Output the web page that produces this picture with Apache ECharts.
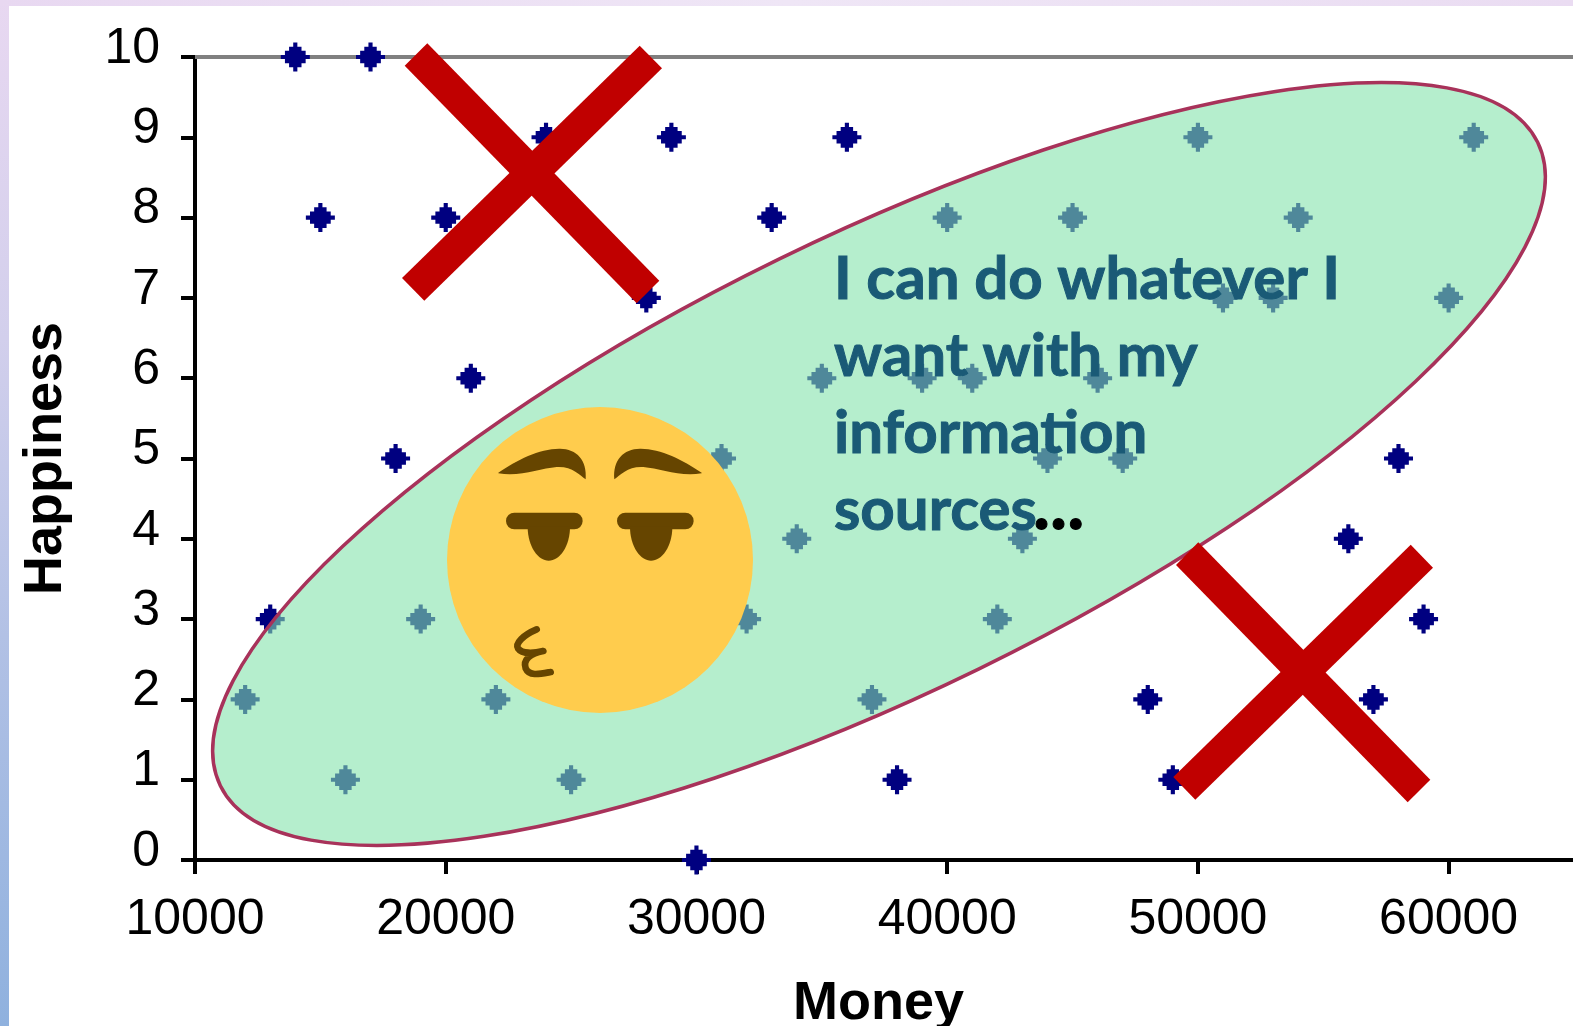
<!DOCTYPE html>
<html>
<head>
<meta charset="utf-8">
<title>Money vs Happiness</title>
<script src="https://cdn.jsdelivr.net/npm/echarts@6/dist/echarts.min.js"></script>
<style>
  html, body { margin: 0; padding: 0; background: #fff; overflow: hidden; }
  #leftStrip { position: absolute; left: 0; top: 0; width: 9px; height: 1026px;
    background: linear-gradient(to bottom, #e8d8f1, #d2cfec 33%, #b2c1e5 62%, #8fb1de); }
  #topStrip { position: absolute; left: 0; top: 0; width: 1573px; height: 6px;
    background: linear-gradient(to right, #e8d8f1, #efe6f6 50%, #eadcf2); }
  #chart { position: absolute; left: 0; top: 0; width: 1573px; height: 1026px; }
</style>
</head>
<body>
<div id="leftStrip"></div>
<div id="topStrip"></div>
<div id="chart"></div>
<script>
// Survey points
const money = [
  14000, 17000, 24000, 29000, 36000, 50000, 61000,
  15000, 20000, 33000, 40000, 45000, 54000,
  28000, 51000, 53000, 60000,
  21000, 35000, 39000, 41000, 46000,
  18000, 31000, 44000, 47000, 58000,
  34000, 43000, 56000,
  13000, 19000, 32000, 42000, 59000,
  12000, 22000, 37000, 48000, 57000,
  16000, 25000, 38000, 49000,
  30000
]
const happiness = [
  10, 10, 9, 9, 9, 9, 9,
  8, 8, 8, 8, 8, 8,
  7, 7, 7, 7,
  6, 6, 6, 6, 6,
  5, 5, 5, 5, 5,
  4, 4, 4,
  3, 3, 3, 3, 3,
  2, 2, 2, 2, 2,
  1, 1, 1, 1,
  0
]
const infoLines = ['I can do whatever I', 'want with my', 'information', 'sources']

const AXIS_FONT = '"Liberation Sans", Arial, sans-serif'
const RED = '#c00000'
const BROWN = '#664500'
const TEXT_COLOR = '#1a5a76'
// staircase marker like the old bitmap diamond
const MARKER = 'path://M3 0H4V1H5V2H6V3H7V4H6V5H5V6H4V7H3V6H2V5H1V4H0V3H1V2H2V1H3Z'

function bar(points) {
  return { type: 'polygon', z: 20, shape: { points }, style: { fill: RED } }
}

// the graphic component has no plain path type, so each emoji stroke gets its own shape
function emojiPart(name, path, extra) {
  echarts.graphic.registerShape(name, echarts.graphic.extendPath(path, {}))
  return { type: name, z: 16, style: Object.assign({ fill: BROWN }, extra) }
}

const emoji = {
  type: 'group',
  x: 430,
  y: 390,
  scaleX: 1 / 3,
  scaleY: 1 / 3,
  children: [
    { type: 'circle', z: 15, shape: { cx: 510, cy: 510, r: 459 }, style: { fill: '#ffcc4d' } },
    emojiPart('browLeft', 'M205 248C260 210 330 175 390 176C440 177 472 210 467 268C450 255 425 228 380 231C330 235 270 262 205 250Z'),
    emojiPart('browRight', 'M815 248C760 210 690 175 630 176C580 177 548 210 553 268C570 255 595 228 640 231C690 235 750 262 815 250Z'),
    { type: 'rect', z: 16, shape: { x: 228, y: 368, width: 230, height: 50, r: 25 }, style: { fill: BROWN } },
    { type: 'rect', z: 16, shape: { x: 561, y: 368, width: 230, height: 50, r: 25 }, style: { fill: BROWN } },
    emojiPart('pupilLeft', 'M293 410C293 470 325 512 356 512C388 512 420 470 420 410Z'),
    emojiPart('pupilRight', 'M600 410C600 470 632 512 663 512C695 512 727 470 727 410Z'),
    emojiPart('kissMouth', 'M320 718C280 735 255 760 264 775C275 792 310 790 340 783C300 790 278 810 287 835C298 860 330 852 362 846', {
      fill: null, stroke: BROWN, lineWidth: 20, lineCap: 'round', lineJoin: 'round'
    })
  ]
}

const textItems = infoLines.map((line, i) => ({
  type: 'text',
  z: 17,
  x: 834,
  y: 250 + i * 76.8,
  style: { text: line, fill: TEXT_COLOR, stroke: TEXT_COLOR, lineWidth: 1, font: 'bold 60px Lato, sans-serif' }
}))

const option = {
  animation: false,
  grid: { left: 195, top: 57, width: 1379, height: 803, outerBoundsMode: 'none' },
  xAxis: [
    {
      type: 'value',
      min: 10000,
      max: 65000,
      interval: 10000,
      name: 'Money',
      nameLocation: 'middle',
      nameGap: 117,
      nameTextStyle: { fontFamily: AXIS_FONT, fontSize: 54, fontWeight: 'bold', color: '#000', padding: [0, 12, 0, 0] },
      splitLine: { show: false },
      axisLine: { onZero: false, lineStyle: { color: '#000', width: 4 } },
      axisTick: { length: 14, lineStyle: { color: '#000', width: 4 } },
      axisLabel: { fontFamily: AXIS_FONT, fontSize: 50, color: '#000', margin: 35, showMaxLabel: false, formatter: v => String(v) }
    },
    {
      // grey plot border along the top
      type: 'value',
      position: 'top',
      min: 10000,
      max: 65000,
      splitLine: { show: false },
      axisLine: { show: true, onZero: false, lineStyle: { color: '#808080', width: 4 } },
      axisTick: { show: false },
      axisLabel: { show: false }
    }
  ],
  yAxis: {
    type: 'value',
    min: 0,
    max: 10,
    interval: 1,
    name: 'Happiness',
    nameLocation: 'middle',
    nameGap: 122,
    nameTextStyle: { fontFamily: AXIS_FONT, fontSize: 54, fontWeight: 'bold', color: '#000' },
    splitLine: { show: false },
    axisLine: { show: true, onZero: false, lineStyle: { color: '#000', width: 4 } },
    axisTick: { show: true, length: 14, lineStyle: { color: '#000', width: 4 } },
    // labels sit a little above their ticks in the original
    axisLabel: { fontFamily: AXIS_FONT, fontSize: 50, color: '#000', margin: 35, verticalAlign: 'bottom', lineHeight: 16 }
  },
  series: [{
    type: 'scatter',
    xAxisIndex: 0,
    symbol: MARKER,
    symbolSize: 29,
    itemStyle: { color: '#000080', opacity: 1 },
    data: money.map((m, i) => [m, happiness[i]]),
    clip: false
  }],
  graphic: [
    {
      type: 'ellipse',
      z: 10,
      x: 879,
      y: 464,
      rotation: 26.03 * Math.PI / 180,
      shape: { cx: 0, cy: 0, rx: 733, ry: 228 },
      style: { fill: 'rgba(132,227,172,0.6)', stroke: '#a8325a', lineWidth: 3.5 }
    },
    emoji,
    ...textItems,
    {
      type: 'text',
      z: 17,
      x: 1033,
      y: 470,
      style: { text: '...', fill: '#000', stroke: '#000', lineWidth: 1, font: 'bold 72px Lato, sans-serif' }
    },
    bar([[427.3, 43.3], [404.7, 65.7], [636.7, 303.3], [659.3, 280.7]]),
    bar([[639.7, 45.7], [662, 68.3], [424.3, 300.7], [402, 278]]),
    bar([[1198.3, 542.3], [1176, 565], [1407.7, 802.3], [1430.3, 779.7]]),
    bar([[1410.7, 544.7], [1433, 567.7], [1195.3, 799.7], [1173.3, 777]])
  ]
}

const chart = echarts.init(document.getElementById('chart'), null, { renderer: 'canvas' })
chart.setOption(option)
</script>
</body>
</html>
